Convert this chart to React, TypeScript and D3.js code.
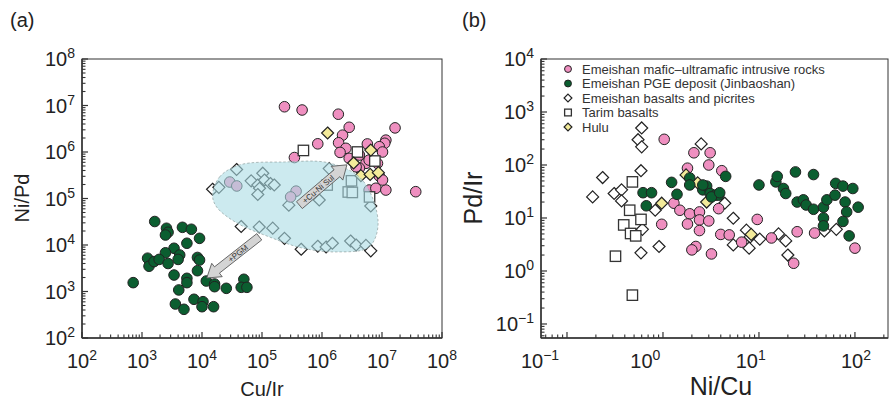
import React from "react";
import * as d3 from "d3";

// ---------- Panel (a): Cu/Ir vs Ni/Pd ----------
const intrusiveA: [number, number][] = [
  [2.37e5, 9.4e6], [4.66e5, 8.0e6], [1.87e6, 6.5e6], [2.84e6, 3.4e6], [1.65e7, 3.3e6],
  [2.2e6, 2.3e6], [1.16e7, 1.8e6], [1.11e7, 1.54e6], [8.5e5, 1.5e6], [1.89e6, 1.58e6],
  [2.5e6, 1.2e6], [5.7e6, 1.49e6], [9.0e6, 1.3e6], [2.0e6, 9.8e5], [3.47e5, 7.6e5],
  [2.84e6, 7.3e5], [5.4e6, 5.7e5], [8.4e6, 5.7e5], [4.2e6, 4.5e5], [9.0e6, 3.05e5],
  [6.1e6, 1.52e5], [7.9e6, 1.66e5], [1.16e7, 1.52e5], [3.65e7, 1.4e5], [2.9e4, 2.26e5],
  [3.8e4, 1.86e5], [3.7e5, 1.44e5], [3.0e5, 1.08e5], [1.02e7, 1.0e6], [3.7e6, 4.8e5],
  [1.02e7, 2.5e5], [4.2e6, 8.6e5], [6.1e6, 6.7e5],
];
const jinbaoshanA: [number, number][] = [
  [1.63e3, 3.2e4], [2.56e3, 2.29e4], [2.72e3, 1.88e4], [2.46e3, 1.64e4], [4.72e3, 2.4e4],
  [6.65e3, 2.18e4], [9.1e3, 1.39e4], [5.6e3, 1.09e4], [3.42e3, 8.5e3], [2.46e3, 6.8e3],
  [4.25e3, 6.1e3], [4.0e3, 4.9e3], [1.24e3, 5.2e3], [1.31e3, 3.5e3], [1.59e3, 4.4e3],
  [1.93e3, 4.9e3], [2.72e3, 4.0e3], [8.4e3, 5.4e3], [9.1e3, 4.75e3], [8.4e3, 2.8e3],
  [3.42e3, 2.26e3], [5.6e3, 1.92e3], [5.6e3, 1.55e3], [713, 1.55e3], [1.18e4, 1.68e3],
  [1.62e4, 1.45e3], [1.62e4, 1.27e3], [2.54e4, 1.17e3], [4.98e4, 1.83e3], [4.5e4, 1.23e3],
  [5.6e4, 1.23e3], [4.1e3, 1.08e3], [7.35e3, 680], [1.04e4, 604], [3.6e3, 538],
  [5.0e3, 414], [1.0e4, 471], [1.56e4, 471],
];
const basaltsA: [number, number][] = [
  [3.77e4, 4.2e5], [1.5e4, 1.58e5], [1.91e4, 1.74e5], [6.6e4, 2.4e5], [8.5e4, 1.95e5],
  [1.03e5, 3.5e5], [1.1e5, 2.5e5], [9.1e4, 1.66e5], [1.38e5, 2.1e5], [1.6e5, 1.95e5],
  [8.5e4, 1.22e5], [2.8e5, 7.2e4], [1.32e6, 4.4e5], [9.0e5, 9.3e4], [6.5e6, 6.9e4],
  [4.5e4, 2.5e4], [9.0e4, 2.44e4], [1.51e5, 2.3e4], [2.37e5, 1.39e4], [4.5e5, 8.1e3],
  [8.5e5, 9.4e3], [1.17e6, 9.06e3], [1.49e6, 1.09e4], [3.0e6, 1.22e4], [3.7e6, 1.0e4],
  [5.4e6, 9.8e3], [6.5e6, 7.5e3],
];
const tarimA: [number, number][] = [
  [4.9e5, 1.08e6], [3.9e6, 1.0e6], [7.6e6, 6.4e5], [3.1e6, 2.4e5], [1.22e6, 1.95e5],
  [2.74e6, 1.38e5], [3.2e6, 1.35e5], [6.2e6, 1.08e5],
];
const huluA: [number, number][] = [
  [1.24e6, 2.56e6], [6.5e6, 1.1e6], [3.36e6, 5.8e5], [4.45e6, 3.1e5], [6.35e6, 3.3e5],
  [8.7e6, 3.6e5],
];
// outline of the shaded basalt field
const fieldA: [number, number][] = [
  [1.5e4, 1.19e5], [1.96e4, 2.9e5], [4.2e4, 5.25e5], [2.37e5, 6.1e5], [1.32e6, 5.8e5],
  [4.7e6, 2.5e5], [8.6e6, 3.0e4], [6.1e6, 9.1e3], [1.73e6, 7.1e3], [4.7e5, 8.6e3],
  [1.33e5, 1.49e4], [3.77e4, 3.0e4], [1.75e4, 6.6e4],
];
const arrowPGM: [number, number][] = [[9e4, 1.5e4], [1.2e4, 1.95e3]];
const arrowSul: [number, number][] = [[4.2e5, 7.2e4], [2.6e6, 5.3e5]];

// ---------- Panel (b): Ni/Cu vs Pd/Ir ----------
const intrusiveB: [number, number][] = [
  [1.03, 305], [2.1, 170], [3.1, 170], [3.0, 100], [4.1, 78], [1.8, 87], [1.3, 19],
  [1.5, 14], [1.9, 12], [2.4, 13], [2.4, 9.2], [3.0, 8.8], [1.8, 7.7], [2.4, 5.8],
  [0.97, 7.6], [2.2, 2.9], [2.0, 2.5], [3.2, 2.1], [3.8, 15], [4.0, 4.9], [4.9, 4.8],
  [6.6, 3.5], [9.6, 9.4], [13.5, 4.2], [25, 5.5], [38, 5.2], [100, 2.7], [23, 1.4],
];
const jinbaoshanB: [number, number][] = [
  [0.62, 30], [0.76, 30], [0.67, 17], [1.23, 47], [1.4, 28], [1.9, 57], [1.9, 42],
  [2.6, 34], [2.85, 40], [3.1, 29], [3.5, 27], [3.8, 27], [3.2, 25], [4.5, 61],
  [10, 42], [15, 48], [15.5, 61], [18, 36], [19, 29], [24, 74], [37, 66], [25, 20],
  [29, 22], [31, 17.6], [37, 14.6], [47, 16], [51, 22], [62, 27], [63, 45], [75, 40],
  [95, 36], [79, 20], [82, 13], [108, 16], [75, 8.6], [47, 10], [47, 7.1], [87, 4.6],
  [2.6, 42], [3.9, 30],
];
const basaltsB: [number, number][] = [
  [0.6, 500], [0.55, 300], [0.6, 220], [0.59, 78], [0.235, 58], [0.185, 25], [2.5, 250],
  [0.31, 29], [0.37, 34], [0.37, 21], [0.83, 14], [0.61, 6.1], [0.91, 2.9], [0.59, 2.2],
  [5.4, 9.9], [7.4, 5.9], [8.1, 4.4], [10.2, 4.0], [5.4, 3.1], [7.9, 2.7], [16, 5.0],
  [19, 3.7], [20, 2.0], [64, 6.1], [48, 5.7], [4.4, 19],
];
const tarimB: [number, number][] = [
  [0.48, 48], [0.45, 14], [0.59, 9.4], [0.39, 7.4], [0.46, 5.1], [0.52, 4.6],
  [0.32, 1.9], [0.48, 0.35],
];
const huluB: [number, number][] = [
  [0.97, 19], [1.74, 65], [2.3, 46], [2.85, 20], [8.3, 4.9],
];

const xTicksA = [1e2, 1e3, 1e4, 1e5, 1e6, 1e7, 1e8];
const yTicksA = [1e2, 1e3, 1e4, 1e5, 1e6, 1e7, 1e8];
const xTicksB = [0.1, 1, 10, 100];
const yTicksB = [0.1, 1, 10, 100, 1000, 10000];

const legendItems = [
  { label: "Emeishan mafic\u2013ultramafic intrusive rocks", shape: "circle", fill: "#ef8fc0" },
  { label: "Emeishan PGE deposit (Jinbaoshan)", shape: "circle", fill: "#0b5e30" },
  { label: "Emeishan basalts and picrites", shape: "diamond", fill: "#ffffff" },
  { label: "Tarim basalts", shape: "square", fill: "#ffffff" },
  { label: "Hulu", shape: "diamond", fill: "#f3eb9a" },
];

const PINK = "#ef8fc0";
const GREEN = "#0b5e30";
const YELLOW = "#f3eb9a";
const INK = "#222";
const FONT = "'Liberation Sans', Arial, Helvetica, sans-serif";

// ---------- scales ----------
const xA = d3.scaleLog().domain([1e2, 1e8]).range([82, 442]);
const yA = d3.scaleLog().domain([1e2, 1e8]).range([338, 59]);
const xB = d3.scaleLog().domain([0.0536, 221]).range([541, 888]);
const yB = d3.scaleLog().domain([0.0544, 1e4]).range([338, 59]);
const labelXB = d3.scaleLog().domain([0.1, 100]).range([540, 856]);

function minorTicks(domain: number[]) {
  const lo = Math.floor(Math.log10(domain[0]));
  const hi = Math.ceil(Math.log10(domain[1]));
  const out: number[] = [];
  for (let e = lo; e < hi; e++) {
    for (let k = 2; k <= 9; k++) {
      const v = k * Math.pow(10, e);
      if (v >= domain[0] && v <= domain[1]) out.push(v);
    }
  }
  return out;
}

function expText(v: number) {
  const e = Math.round(Math.log10(v));
  return e < 0 ? "\u2212" + Math.abs(e) : String(e);
}

function Pow({ x, y, v, anchor }: { x: number; y: number; v: number; anchor: string }) {
  return (
    <text x={x} y={y} textAnchor={anchor} fontSize={20} fill={INK} fontFamily={FONT}>
      10<tspan dy={-8} fontSize={14}>{expText(v)}</tspan>
    </text>
  );
}

function Mark({ shape, x, y, fill, size = 1 }: { shape: string; x: number; y: number; fill: string; size?: number }) {
  if (shape === "circle") {
    return <circle cx={x} cy={y} r={5.3 * size} fill={fill} stroke={INK} strokeWidth={1} />;
  }
  if (shape === "square") {
    const h = 5.2 * size;
    return <rect x={x - h} y={y - h} width={2 * h} height={2 * h} fill={fill} stroke="#333" strokeWidth={1.3} />;
  }
  const d = 6 * size;
  return (
    <path d={`M${x},${y - d}L${x + d},${y}L${x},${y + d}L${x - d},${y}Z`} fill={fill} stroke={INK} strokeWidth={1.2} />
  );
}

function Series({ data, sx, sy, shape, fill }: any) {
  return (
    <g>
      {data.map((p: [number, number], i: number) => (
        <Mark key={i} shape={shape} x={sx(p[0])} y={sy(p[1])} fill={fill} />
      ))}
    </g>
  );
}

function FatArrow({ from, to, label, half, headHalf, headLen }: any) {
  const [x1, y1] = from;
  const [x2, y2] = to;
  const L = Math.hypot(x2 - x1, y2 - y1);
  const ang = (Math.atan2(y2 - y1, x2 - x1) * 180) / Math.PI;
  const pts = [
    [0, -half], [L - headLen, -half], [L - headLen, -headHalf], [L, 0],
    [L - headLen, headHalf], [L - headLen, half], [0, half],
  ];
  const flip = Math.abs(ang) > 90;
  const mid = (L - headLen) / 2;
  return (
    <g transform={`translate(${x1},${y1}) rotate(${ang})`}>
      <polygon points={pts.map((p) => p.join(",")).join(" ")} fill="#d4d4d4" stroke="#555" strokeWidth={0.8} />
      <text
        transform={`translate(${mid},0) rotate(${flip ? 180 : 0})`}
        textAnchor="middle"
        dy="0.35em"
        fontSize={8}
        fill="#333"
        fontFamily={FONT}
      >
        {label}
      </text>
    </g>
  );
}

function Axes({ sx, sy, xt, yt, labelX }: any) {
  const [x0, x1] = sx.range();
  const [y0, y1] = sy.range();
  const lx = labelX || sx;
  return (
    <g>
      <rect x={x0} y={y1} width={x1 - x0} height={y0 - y1} fill="none" stroke="#333" strokeWidth={1} />
      <line x1={x0} x2={x1} y1={y0} y2={y0} stroke="#333" strokeWidth={1.5} />
      <line x1={x0} x2={x0} y1={y0} y2={y1} stroke="#333" strokeWidth={1.5} />
      {xt.map((v: number) => (
        <line key={"xM" + v} x1={sx(v)} x2={sx(v)} y1={y0} y2={y0 - 6} stroke="#333" strokeWidth={1.2} />
      ))}
      {minorTicks(sx.domain()).map((v: number) => (
        <line key={"xm" + v} x1={sx(v)} x2={sx(v)} y1={y0} y2={y0 - 3.5} stroke="#333" strokeWidth={1.1} />
      ))}
      {yt.map((v: number) => (
        <line key={"yM" + v} x1={x0} x2={x0 + 6} y1={sy(v)} y2={sy(v)} stroke="#333" strokeWidth={1.2} />
      ))}
      {minorTicks(sy.domain()).map((v: number) => (
        <line key={"ym" + v} x1={x0} x2={x0 + 3.5} y1={sy(v)} y2={sy(v)} stroke="#333" strokeWidth={1.1} />
      ))}
      {xt.map((v: number) => (
        <Pow key={"xl" + v} x={lx(v)} y={368} v={v} anchor="middle" />
      ))}
      {yt.map((v: number) => (
        <Pow key={"yl" + v} x={x0 - 7} y={sy(v) + 7} v={v} anchor="end" />
      ))}
    </g>
  );
}

export default function App() {
  const field = d3
    .line<[number, number]>()
    .x((d) => xA(d[0]))
    .y((d) => yA(d[1]))
    .curve(d3.curveCatmullRomClosed.alpha(0.5))(fieldA);

  const px = (p: [number, number]) => [xA(p[0]), yA(p[1])];

  return (
    <svg
      width={890}
      height={401}
      viewBox="0 0 890 401"
      style={{ position: "absolute", left: 0, top: 0, display: "block", background: "#fff" }}
      fontFamily={FONT}
    >
      <rect width={890} height={401} fill="#fff" />

      {/* panel (a) */}
      <text x={10} y={27} fontSize={20} fill={INK}>(a)</text>
      <Series data={basaltsA} sx={xA} sy={yA} shape="diamond" fill="#fff" />
      <Series data={intrusiveA} sx={xA} sy={yA} shape="circle" fill={PINK} />
      <Series data={tarimA} sx={xA} sy={yA} shape="square" fill="#fff" />
      <Series data={huluA} sx={xA} sy={yA} shape="diamond" fill={YELLOW} />
      <Series data={jinbaoshanA} sx={xA} sy={yA} shape="circle" fill={GREEN} />
      <path d={field || ""} fill="rgb(170,220,228)" fillOpacity={0.6} stroke="#9aa" strokeWidth={0.8} strokeDasharray="2.5,2" />
      <FatArrow from={px(arrowPGM[0])} to={px(arrowPGM[1])} label="+PGM" half={4} headHalf={8.5} headLen={13} />
      <FatArrow from={px(arrowSul[0])} to={px(arrowSul[1])} label="+Cu-Ni Sul" half={4.5} headHalf={9} headLen={13} />
      <Axes sx={xA} sy={yA} xt={xTicksA} yt={yTicksA} />
      <text x={262} y={396} textAnchor="middle" fontSize={20} fill={INK}>Cu/Ir</text>
      <text transform="translate(29,198) rotate(-90)" textAnchor="middle" fontSize={20} fill={INK}>Ni/Pd</text>

      {/* panel (b) */}
      <text x={462} y={27} fontSize={20} fill={INK}>(b)</text>
      <Series data={basaltsB} sx={xB} sy={yB} shape="diamond" fill="#fff" />
      <Series data={tarimB} sx={xB} sy={yB} shape="square" fill="#fff" />
      <Series data={intrusiveB} sx={xB} sy={yB} shape="circle" fill={PINK} />
      <Series data={huluB} sx={xB} sy={yB} shape="diamond" fill={YELLOW} />
      <Series data={jinbaoshanB} sx={xB} sy={yB} shape="circle" fill={GREEN} />
      <Axes sx={xB} sy={yB} xt={xTicksB} yt={yTicksB} labelX={labelXB} />
      <text x={721} y={395} textAnchor="middle" fontSize={25} fill={INK}>Ni/Cu</text>
      <text transform="translate(482,198) rotate(-90)" textAnchor="middle" fontSize={25} fill={INK}>Pd/Ir</text>

      {/* legend */}
      <g>
        {legendItems.map((it, i) => (
          <g key={it.label}>
            <Mark shape={it.shape} x={568} y={69 + i * 14.5} fill={it.fill} size={0.65} />
            <text x={582} y={69 + i * 14.5 + 4.5} fontSize={13} fill="#333">{it.label}</text>
          </g>
        ))}
      </g>
    </svg>
  );
}
